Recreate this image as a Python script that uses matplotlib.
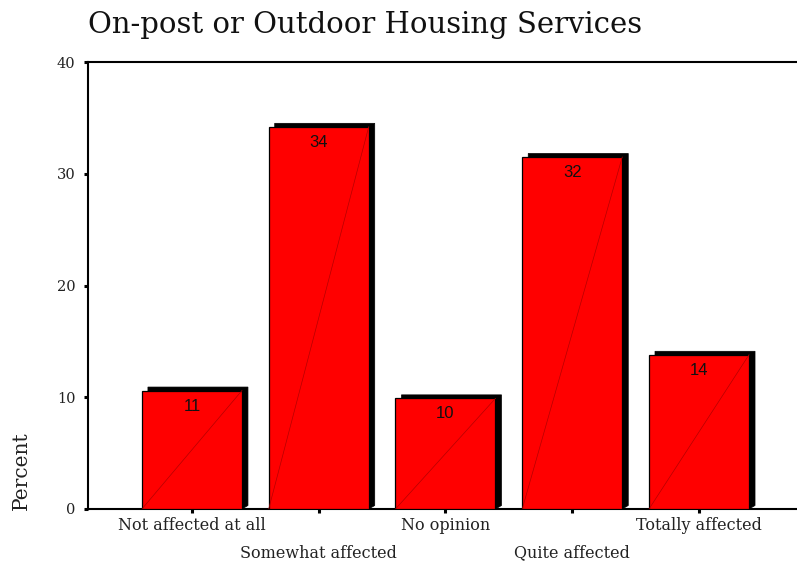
import matplotlib
matplotlib.use("Agg")
import matplotlib.pyplot as plt
from matplotlib.patches import Polygon

# Survey responses, percent of respondents
categories = ["Not affected at all", "Somewhat affected", "No opinion",
              "Quite affected", "Totally affected"]
percents = [10.6, 34.2, 9.9, 31.5, 13.8]
y_ticks = [0, 10, 20, 30, 40]
title = "On-post or Outdoor Housing Services"

SERIF = ["DejaVu Serif"]
SANS = ["Liberation Sans", "DejaVu Sans"]

W, H, DPI = 797, 565, 100
fig = plt.figure(figsize=(W / DPI, H / DPI), dpi=DPI)

# axes frame in pixels
left_px, top_px, bottom_px = 88, 62, 509
ax = fig.add_axes([left_px / W, 1 - bottom_px / H,
                   1 - left_px / W, (bottom_px - top_px) / H])
xmin, xmax = -0.82, 4.773
ymin, ymax = 0, 40
ax.set_xlim(xmin, xmax)
ax.set_ylim(ymin, ymax)

# conversion of pixel offsets into data units for the drop shadow
px_x = (W - left_px) / (xmax - xmin)
px_y = (bottom_px - top_px) / (ymax - ymin)
dx = 6 / px_x
dy = 3.5 / px_y

bar_w = 0.789
xs = list(range(len(categories)))

for x, v in zip(xs, percents):
    x0, x1 = x - bar_w / 2, x + bar_w / 2
    shadow = Polygon([(x0 + dx, v + dy), (x1 + dx, v + dy), (x1 + dx, dy),
                      (x1, 0), (x0 + dx, 0)],
                     closed=True, facecolor="black", edgecolor="black",
                     linewidth=0.5, zorder=2)
    ax.add_patch(shadow)

ax.bar(xs, percents, width=bar_w, color="#ff0000", edgecolor="black",
       linewidth=0.9, zorder=3)

for x, v in zip(xs, percents):
    ax.plot([x - bar_w / 2, x + bar_w / 2], [0, v], color="#b40000",
            linewidth=0.5, zorder=4)
    ax.annotate(f"{v:.0f}", xy=(x, v), xytext=(0, -8),
                textcoords="offset pixels", ha="center", va="top",
                fontsize=12, family=SANS, color="#111111", zorder=5)

# spines
for side in ("left", "bottom", "top"):
    ax.spines[side].set_linewidth(1.5)
    ax.spines[side].set_color("black")
ax.spines["right"].set_visible(False)

ax.set_yticks(y_ticks)
ax.set_yticklabels([str(t) for t in y_ticks], family=SERIF, fontsize=10.5,
                   color="#222222")
ax.tick_params(axis="y", direction="out", length=3, width=2.2, pad=6)
ax.set_xticks(xs)
ax.tick_params(axis="x", direction="out", length=3, width=2.2,
               labelbottom=False)

# staggered category labels
for i, (x, lab) in enumerate(zip(xs, categories)):
    off = -17 if i % 2 == 0 else -44
    ax.annotate(lab, xy=(x, 0), xycoords=("data", "axes fraction"),
                xytext=(0, off), textcoords="offset pixels",
                ha="center", va="center", fontsize=11.5, family=SERIF,
                color="#222222", annotation_clip=False)

fig.text(left_px / W, 1 - 33 / H, title, ha="left", va="baseline",
         fontsize=21, family=SERIF, color="#111111")
fig.text(21 / W, 1 - 510 / H, "Percent", rotation=90, ha="center",
         va="bottom", fontsize=14.5, family=SERIF, color="#222222")

fig.savefig("out.png", dpi=DPI)
